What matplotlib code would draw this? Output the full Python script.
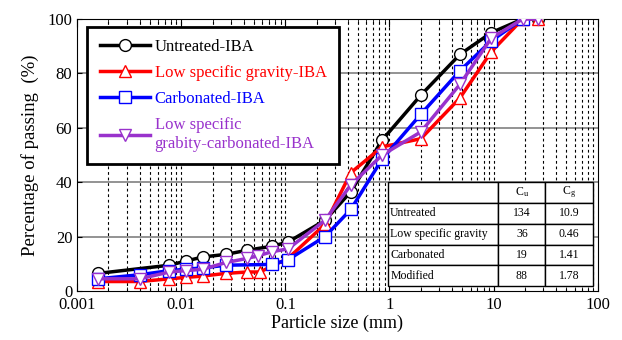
import matplotlib.pyplot as plt
import numpy as np

plt.rcParams['font.family'] = ['Liberation Serif', 'DejaVu Serif']
plt.rcParams['mathtext.fontset'] = 'stix'

# grading curves
untreated_x = [0.0016, 0.0077, 0.011, 0.016, 0.027, 0.043, 0.075, 0.106, 0.24, 0.425, 0.85, 2, 4.75, 9.5, 19, 26.5]
untreated_y = [6.5, 9.5, 11, 12.5, 13.5, 15, 16.5, 18, 26, 36.5, 55.5, 72, 87, 95, 100, 100]

lowsg_x = [0.0016, 0.004, 0.0077, 0.011, 0.016, 0.027, 0.043, 0.057, 0.106, 0.24, 0.425, 0.85, 2, 4.75, 9.5, 19, 26.5]
lowsg_y = [3.5, 3.5, 4.5, 5, 5.5, 6.5, 7, 7, 12, 24.5, 43.5, 53, 56, 71, 88, 100, 100]

carb_x = [0.0016, 0.004, 0.0077, 0.011, 0.016, 0.027, 0.075, 0.106, 0.24, 0.425, 0.85, 2, 4.75, 9.5, 19]
carb_y = [4.5, 6, 7.5, 8, 8.5, 9.5, 9.8, 11.5, 20, 30, 48.5, 65, 81, 92, 100]

mod_x = [0.0016, 0.004, 0.0077, 0.011, 0.016, 0.027, 0.043, 0.055, 0.075, 0.106, 0.24, 0.425, 0.85, 2, 4.75, 9.5, 19, 26.5]
mod_y = [4.5, 4.5, 7, 7.5, 8, 10.5, 12, 13, 14.5, 15.5, 26, 39, 50, 58.5, 76, 93, 100, 100]

table_rows = ['Untreated', 'Low specific gravity', 'Carbonated', 'Modified']
cu_vals = ['134', '36', '19', '88']
cg_vals = ['10.9', '0.46', '1.41', '1.78']

purple = '#9932cc'
series = [
    (untreated_x, untreated_y, 'Untreated-IBA', 'black', 'o'),
    (lowsg_x, lowsg_y, 'Low specific gravity-IBA', '#ff0000', '^'),
    (carb_x, carb_y, 'Carbonated-IBA', '#0000ff', 's'),
    (mod_x, mod_y, 'Low specific\ngrabity-carbonated-IBA', purple, 'v'),
]

fig = plt.figure(figsize=(6.22, 3.4), dpi=100)
ax = fig.add_axes([0.124, 0.144, 0.837, 0.80])

for x, y, label, color, marker in series:
    ax.plot(x, y, color=color, marker=marker, markersize=8.5, linewidth=2.5,
            markerfacecolor='white', markeredgecolor=color, markeredgewidth=1.0,
            label=label, zorder=3)

ax.set_xscale('log')
ax.set_xlim(0.001, 100)
ax.set_ylim(0, 100)
ax.set_yticks([0, 20, 40, 60, 80, 100])

# grid: grey horizontal, dashed vertical at every log tick
for yv in [20, 40, 60, 80]:
    ax.axhline(yv, color='#808080', linewidth=1.2, zorder=1)
for dec in [0.001, 0.01, 0.1, 1, 10]:
    for m in range(1, 10):
        xv = dec * m
        if 0.001 < xv < 100:
            ax.axvline(xv, color='black', linestyle=(0, (2.5, 2.5)), linewidth=0.8, zorder=1)

ax.tick_params(axis='both', which='both', direction='in', top=True, right=False, labelsize=12)
ax.tick_params(axis='x', which='major', length=6, pad=4.5)
ax.tick_params(axis='x', which='minor', length=3)
ax.set_xticks([0.001, 0.01, 0.1, 1, 10, 100])
ax.set_xticklabels(['0.001', '0.01', '0.1', '1', '10', '100'])

ax.set_xlabel('Particle size (mm)', fontsize=13, labelpad=1)
ax.set_ylabel('Percentage of passing  (%)', fontsize=13.5, labelpad=6)

leg = ax.legend(loc='upper left', bbox_to_anchor=(0.019, 0.972), borderaxespad=0,
                fontsize=12, frameon=True, fancybox=False, framealpha=1,
                handlelength=3.0, labelspacing=0.6, borderpad=0.75, handletextpad=0.3)
leg.get_frame().set_edgecolor('black')
leg.get_frame().set_linewidth(2)
for text, (_, _, _, color, _) in zip(leg.get_texts(), series):
    text.set_color(color)
leg.set_zorder(5)

cell_text = [['', r'C$_\mathregular{u}$', r'C$_\mathregular{g}$']]
for name, cu, cg in zip(table_rows, cu_vals, cg_vals):
    cell_text.append([name, cu, cg])

tbl = ax.table(cellText=cell_text, bbox=[0.597, 0.018, 0.393, 0.382],
               colWidths=[0.54, 0.23, 0.23], zorder=6)
tbl.auto_set_font_size(False)
for (r, c), cell in tbl.get_celld().items():
    cell.set_facecolor('white')
    cell.set_linewidth(1.0)
    cell.get_text().set_fontsize(8.5)
    if c == 0:
        cell.get_text().set_ha('left')
        cell.PAD = 0.02
    else:
        cell.get_text().set_ha('center')

fig.savefig('out.png', dpi=100)
